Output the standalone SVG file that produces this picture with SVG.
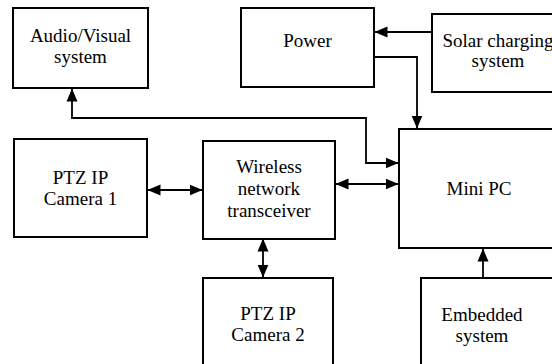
<svg xmlns="http://www.w3.org/2000/svg" width="552" height="364" viewBox="0 0 552 364">
  <style>
    .box { fill: #fff; stroke: #000; stroke-width: 2; }
    .lbl { font-family: "Liberation Serif", "Times New Roman", serif; font-size: 19px; fill: #000; text-anchor: middle; }
    .wire { fill: none; stroke: #000; stroke-width: 1.8; }
  </style>
  <defs>
    <marker id="arrowEnd" markerUnits="userSpaceOnUse" markerWidth="13" markerHeight="12" viewBox="0 0 13 12" refX="12.5" refY="6" orient="auto">
      <path d="M0,0.5 L13,6 L0,11.5 Z" fill="#000"/>
    </marker>
    <marker id="arrowStart" markerUnits="userSpaceOnUse" markerWidth="13" markerHeight="12" viewBox="0 0 13 12" refX="0.5" refY="6" orient="auto">
      <path d="M13,0.5 L0,6 L13,11.5 Z" fill="#000"/>
    </marker>
  </defs>
  <rect width="552" height="364" fill="#fff"/>

  <g id="connectors">
    <!-- solar charging feeds power -->
    <line class="wire" x1="432" y1="32" x2="375" y2="32" marker-end="url(#arrowEnd)"/>
    <!-- power down into mini PC -->
    <polyline class="wire" points="374,57 417,57 417,128" marker-end="url(#arrowEnd)"/>
    <!-- audio/visual link to mini PC -->
    <polyline class="wire" points="72,89 72,118 366,118 366,163 398,163" marker-start="url(#arrowStart)" marker-end="url(#arrowEnd)"/>
    <!-- transceiver to mini PC -->
    <line class="wire" x1="336" y1="184" x2="398" y2="184" marker-start="url(#arrowStart)" marker-end="url(#arrowEnd)"/>
    <!-- camera 1 to transceiver -->
    <line class="wire" x1="148" y1="190" x2="202" y2="190" marker-start="url(#arrowStart)" marker-end="url(#arrowEnd)"/>
    <!-- transceiver to camera 2 -->
    <line class="wire" x1="263" y1="239" x2="263" y2="277" marker-start="url(#arrowStart)" marker-end="url(#arrowEnd)"/>
    <!-- embedded system into mini PC -->
    <line class="wire" x1="483" y1="278" x2="483" y2="249" marker-end="url(#arrowEnd)"/>
  </g>

  <g id="audio-visual">
    <rect class="box" x="13" y="8" width="135" height="80"/>
    <text class="lbl" x="80.5" y="42">Audio/Visual</text>
    <text class="lbl" x="80.5" y="63">system</text>
  </g>

  <g id="power">
    <rect class="box" x="241" y="8" width="133" height="79"/>
    <text class="lbl" x="307.5" y="47">Power</text>
  </g>

  <g id="solar">
    <rect class="box" x="432" y="14" width="140" height="78"/>
    <text class="lbl" x="498" y="47">Solar charging</text>
    <text class="lbl" x="498" y="67">system</text>
  </g>

  <g id="camera1">
    <rect class="box" x="14" y="139" width="133" height="98"/>
    <text class="lbl" x="80.5" y="184">PTZ IP</text>
    <text class="lbl" x="80.5" y="205">Camera 1</text>
  </g>

  <g id="transceiver">
    <rect class="box" x="203" y="141" width="132" height="98"/>
    <text class="lbl" x="269" y="173">Wireless</text>
    <text class="lbl" x="269" y="195">network</text>
    <text class="lbl" x="269" y="217">transceiver</text>
  </g>

  <g id="mini-pc">
    <rect class="box" x="399" y="129" width="170" height="119"/>
    <text class="lbl" x="479" y="195">Mini PC</text>
  </g>

  <g id="camera2">
    <rect class="box" x="203" y="278" width="130" height="100"/>
    <text class="lbl" x="268" y="320">PTZ IP</text>
    <text class="lbl" x="268" y="341">Camera 2</text>
  </g>

  <g id="embedded">
    <rect class="box" x="421" y="278" width="150" height="100"/>
    <text class="lbl" x="482" y="321">Embedded</text>
    <text class="lbl" x="482" y="342">system</text>
  </g>
</svg>
